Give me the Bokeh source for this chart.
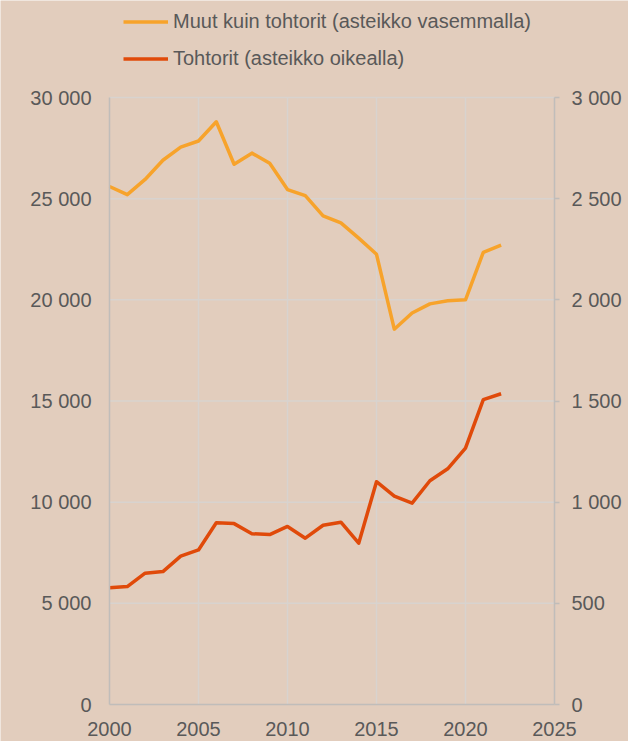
from bokeh.plotting import figure
from bokeh.models import Range1d, LinearAxis, FixedTicker, Legend, LegendItem
from bokeh.embed import file_html
from bokeh.resources import INLINE

# ---- data ----
years = list(range(2000, 2023))
muut = [25600, 25200, 25950, 26900, 27550, 27850, 28800, 26700, 27250, 26750,
        25450, 25150, 24150, 23800, 23050, 22250, 18550, 19350, 19800, 19950,
        20000, 22350, 22700]
tohtorit = [577, 583, 649, 657, 733, 764, 898, 894, 844, 840,
            880, 822, 886, 901, 797, 1101, 1030, 995, 1106, 1165,
            1267, 1507, 1536]

series_names = ["Muut kuin tohtorit (asteikko vasemmalla)", "Tohtorit (asteikko oikealla)"]
x_ticks = [2000, 2005, 2010, 2015, 2020, 2025]
x_labels = ["2000", "2005", "2010", "2015", "2020", "2025"]
left_ticks = [0, 5000, 10000, 15000, 20000, 25000, 30000]
left_labels = ["0", "5 000", "10 000", "15 000", "20 000", "25 000", "30 000"]
right_ticks = [0, 500, 1000, 1500, 2000, 2500, 3000]
right_labels = ["0", "500", "1 000", "1 500", "2 000", "2 500", "3 000"]

BG = "#E2CDBD"
ORANGE = "#F7A32B"
RED = "#E04A0A"
GRID = "#D8D3CF"
AXIS = "#C0BDBA"
TXT = "#595959"
FONT = "Liberation Sans"

# layout (pixels); the frame fills the whole figure and the axes are pinned inside it
W, H = 628, 741
PLOT_LEFT, PLOT_RIGHT = 109, 554
PLOT_TOP, PLOT_BOTTOM = 97, 704
x0, x1 = x_ticks[0], x_ticks[-1]
xpx = (x1 - x0) / (PLOT_RIGHT - PLOT_LEFT)
x_start, x_end = x0 - PLOT_LEFT * xpx, x1 + (W - PLOT_RIGHT) * xpx
scale_px = PLOT_BOTTOM - PLOT_TOP
left_max, right_max = left_ticks[-1], right_ticks[-1]
below_px = H - PLOT_BOTTOM
left_start, left_end = -left_max * below_px / scale_px, left_max * PLOT_BOTTOM / scale_px
right_start, right_end = -right_max * below_px / scale_px, right_max * PLOT_BOTTOM / scale_px

p = figure(width=W, height=H, x_range=Range1d(x_start, x_end),
           y_range=Range1d(left_start, left_end),
           output_backend="svg", toolbar_location=None,
           min_border_left=0, min_border_right=0, min_border_top=0, min_border_bottom=0,
           background_fill_color=BG, border_fill_color=BG, outline_line_color=None)

p.extra_y_ranges = {"right": Range1d(right_start, right_end)}

# grid lines, limited to the plot band
gx = x_ticks[1:-1]
p.segment(x0=gx, y0=[0] * len(gx), x1=gx, y1=[left_max] * len(gx),
          line_color=GRID, line_width=1.5)
gy = left_ticks[1:]
p.segment(x0=[x0] * len(gy), y0=gy, x1=[x1] * len(gy), y1=gy,
          line_color=GRID, line_width=1.5)

r1 = p.line(years, muut, line_color=ORANGE, line_width=3.5, line_join="round")
r2 = p.line(years, tohtorit, line_color=RED, line_width=3.5, line_join="round",
            y_range_name="right")

# x axis
xa = p.xaxis[0]
xa.ticker = FixedTicker(ticks=x_ticks)
xa.major_label_overrides = {t: l for t, l in zip(x_ticks, x_labels)}
xa.fixed_location = 0
xa.bounds = (x0, x1)
# left axis
ya = p.yaxis[0]
ya.ticker = FixedTicker(ticks=left_ticks)
ya.major_label_overrides = {t: l for t, l in zip(left_ticks, left_labels)}
ya.bounds = (0, left_max)
ya.fixed_location = x0
# right axis
ra = LinearAxis(y_range_name="right", ticker=FixedTicker(ticks=right_ticks),
                major_label_overrides={t: l for t, l in zip(right_ticks, right_labels)},
                bounds=(0, right_max), fixed_location=x1)
p.add_layout(ra, "right")

for ax in (xa, ya, ra):
    ax.axis_line_color = AXIS
    ax.axis_line_width = 1.5
    ax.major_tick_line_color = AXIS
    ax.major_tick_line_width = 1.5
    ax.major_tick_in = 0
    ax.minor_tick_line_color = None
    ax.major_label_text_font = FONT
    ax.major_label_text_font_size = "20px"
    ax.major_label_text_color = TXT
xa.major_tick_out = 0
xa.major_label_standoff = 17
ya.major_tick_out = 0
ya.major_label_standoff = 18
ra.major_tick_out = 5
ra.major_label_standoff = 12

p.xgrid.visible = False
p.ygrid.visible = False

legend = Legend(items=[LegendItem(label=series_names[0], renderers=[r1]),
                       LegendItem(label=series_names[1], renderers=[r2])],
                location=(123, H - 70), orientation="vertical",
                background_fill_alpha=0, border_line_alpha=0, padding=0, margin=0,
                spacing=14, glyph_width=45, glyph_height=23, label_height=23,
                label_standoff=5, label_text_font=FONT, label_text_font_size="20px",
                label_text_color=TXT)
p.add_layout(legend)

open("out.html", "w").write(file_html(p, INLINE))
